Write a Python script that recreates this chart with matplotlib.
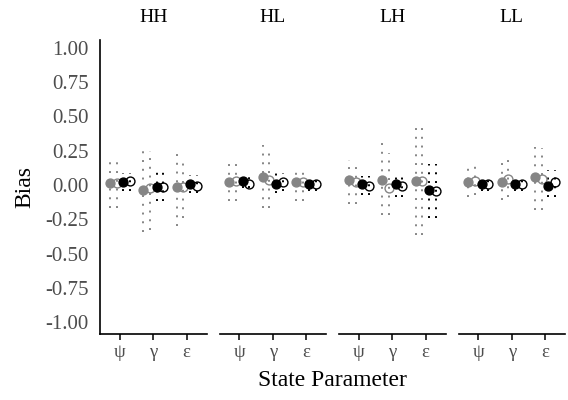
import numpy as np
import matplotlib
matplotlib.use("Agg")
import matplotlib.pyplot as plt

plt.rcParams['font.family'] = ['Liberation Serif', 'DejaVu Serif']

# facet panels and state parameters
panels = ['HH', 'HL', 'LH', 'LL']
params = ['ψ', 'γ', 'ε']
y_ticks = [1.0, 0.75, 0.5, 0.25, 0.0, -0.25, -0.5, -0.75, -1.0]

# bias estimates per panel (rows) and parameter (cols)
gray_filled_est = [[0.016, -0.033, -0.013], [0.020, 0.057, 0.023],
                   [0.040, 0.040, 0.028], [0.023, 0.023, 0.057]]
gray_filled_lo = [[-0.165, -0.345, -0.300], [-0.120, -0.170, -0.120],
                  [-0.140, -0.220, -0.367], [-0.090, -0.110, -0.180]]
gray_filled_hi = [[0.190, 0.280, 0.260], [0.160, 0.290, 0.130],
                  [0.185, 0.310, 0.415], [0.170, 0.160, 0.280]]

gray_open_est = [[0.016, -0.020, -0.013], [0.028, 0.040, 0.023],
                 [0.023, -0.020, 0.028], [0.028, 0.045, 0.045]]
gray_open_lo = [[-0.165, -0.325, -0.240], [-0.120, -0.170, -0.120],
                [-0.140, -0.220, -0.367], [-0.070, -0.090, -0.180]]
gray_open_hi = [[0.190, 0.245, 0.185], [0.160, 0.250, 0.140],
                [0.170, 0.230, 0.430], [0.170, 0.180, 0.270]]

black_filled_est = [[0.020, -0.013, 0.011], [0.028, 0.004, 0.008],
                    [0.011, 0.004, -0.033], [0.008, 0.008, -0.008]]
black_filled_lo = [[-0.045, -0.120, -0.057], [-0.020, -0.057, -0.045],
                   [-0.070, -0.090, -0.240], [-0.045, -0.045, -0.090]]
black_filled_hi = [[0.090, 0.100, 0.076], [0.076, 0.084, 0.057],
                   [0.064, 0.076, 0.150], [0.064, 0.045, 0.110]]

black_open_est = [[0.028, -0.013, -0.008], [0.011, 0.020, 0.011],
                  [-0.008, -0.008, -0.045], [0.004, 0.004, 0.020]]
black_open_lo = [[-0.045, -0.120, -0.057], [-0.020, -0.045, -0.045],
                 [-0.070, -0.090, -0.240], [-0.045, -0.045, -0.090]]
black_open_hi = [[0.090, 0.100, 0.076], [0.070, 0.090, 0.057],
                 [0.064, 0.076, 0.150], [0.064, 0.045, 0.110]]

GRAY = '#858585'
TICK_GRAY = '#4d4d4d'

series = [
    (gray_filled_est, gray_filled_lo, gray_filled_hi, GRAY, True),
    (gray_open_est, gray_open_lo, gray_open_hi, GRAY, False),
    (black_filled_est, black_filled_lo, black_filled_hi, 'black', True),
    (black_open_est, black_open_lo, black_open_hi, 'black', False),
]
offsets = [-0.3, -0.1, 0.1, 0.3]

W, H = 568, 400
fig = plt.figure(figsize=(W / 100, H / 100), dpi=100)

panel_left = [100, 219.5, 339, 458.5]
panel_w = 106.5
top_px, bottom_px = 40, 334

x = np.arange(len(params)) + 1
for i, name in enumerate(panels):
    ax = fig.add_axes([panel_left[i] / W, 1 - bottom_px / H,
                       panel_w / W, (bottom_px - top_px) / H])
    # dotted intervals first, then the points
    for (est, lo, hi, col, filled), off in zip(series, offsets):
        ax.vlines(x + off, lo[i], hi[i], colors=col, linewidth=1.4,
                  linestyles=(0, (1, 3.5)))
    for (est, lo, hi, col, filled), off in zip(series, offsets):
        ax.plot(x + off, est[i], 'o', ms=6.4,
                mfc=col if filled else 'none', mec=col, mew=1.0)

    ax.set_xlim(0.4, 3.6)
    ax.set_ylim(-1.087, 1.058)
    for s in ['top', 'right']:
        ax.spines[s].set_visible(False)
    ax.spines['bottom'].set_linewidth(1.2)
    ax.spines['left'].set_linewidth(1.2)
    ax.set_xticks(x)
    ax.set_xticklabels(params, fontsize=13.5, color=TICK_GRAY)
    ax.tick_params(axis='x', length=4, width=1.1, pad=3)
    if i == 0:
        ax.set_yticks(y_ticks)
        ax.set_yticklabels([f'{v:.2f}' for v in y_ticks], fontsize=15,
                           color=TICK_GRAY)
        ax.tick_params(axis='y', length=0, pad=8)
    else:
        ax.spines['left'].set_visible(False)
        ax.set_yticks([])
    fig.text((panel_left[i] + panel_w / 2) / W, 1 - 18 / H, name,
             fontsize=14, ha='center', va='center')

fig.text(25 / W, 1 - 187 / H, 'Bias', rotation=90, fontsize=17,
         ha='center', va='center')
fig.text(332.5 / W, 1 - 381 / H, 'State Parameter', fontsize=17,
         ha='center', va='center')

fig.savefig('out.png', dpi=100)
